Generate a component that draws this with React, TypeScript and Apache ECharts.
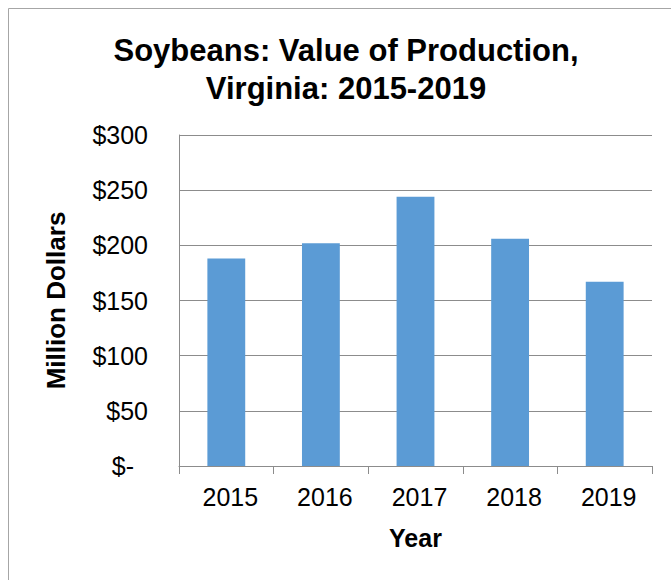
import React, { useEffect, useRef } from "react";
import * as echarts from "echarts";

const years = ["2015", "2016", "2017", "2018", "2019"];
const values = [188, 202, 244, 206, 167];
const yTicks = [0, 50, 100, 150, 200, 250, 300];

export default function App() {
  const ref = useRef<HTMLDivElement>(null);
  useEffect(() => {
    document.body.style.margin = "0";
    const chart = echarts.init(ref.current!, null, { renderer: "svg" });
    chart.setOption({
      animation: false,
      backgroundColor: "#ffffff",
      title: {
        text: "Soybeans: Value of Production,\nVirginia: 2015-2019",
        left: 346,
        textAlign: "center",
        top: 31,
        padding: 0,
        textStyle: {
          fontFamily: "Liberation Sans, Arial, sans-serif",
          fontWeight: "bold",
          fontSize: 31,
          lineHeight: 38,
          color: "#000",
        },
      },
      graphic: [
        {
          type: "rect",
          shape: { x: 8.5, y: 8.5, width: 700, height: 700 },
          style: { fill: "none", stroke: "#a6a6a6", lineWidth: 1 },
          silent: true,
        },
      ],
      grid: { left: 179, right: 19, top: 135, bottom: 114 },
      xAxis: {
        type: "category",
        data: years,
        name: "Year",
        nameLocation: "middle",
        nameGap: 59,
        nameTextStyle: {
          fontFamily: "Liberation Sans, Arial, sans-serif",
          fontWeight: "bold",
          fontSize: 25,
          color: "#000",
        },
        axisLine: { show: true, lineStyle: { color: "#8c8c8c", width: 1 } },
        axisTick: { show: true, length: 8, lineStyle: { color: "#8c8c8c" } },
        axisLabel: {
          fontFamily: "Liberation Sans, Arial, sans-serif",
          fontSize: 25,
          color: "#000",
          margin: 18,
          padding: [0, 0, 0, 8],
        },
      },
      yAxis: {
        type: "value",
        min: 0,
        max: 300,
        interval: 50,
        name: "Million Dollars",
        nameLocation: "middle",
        nameGap: 110,
        nameTextStyle: {
          fontFamily: "Liberation Sans, Arial, sans-serif",
          fontWeight: "bold",
          fontSize: 26,
          color: "#000",
        },
        axisLine: { show: true, lineStyle: { color: "#8c8c8c", width: 1 } },
        axisTick: { show: false },
        splitLine: { show: true, lineStyle: { color: "#8c8c8c", width: 1 } },
        axisLabel: {
          fontFamily: "Liberation Sans, Arial, sans-serif",
          fontSize: 25,
          color: "#000",
          margin: 31,
          formatter: (v: number) =>
            yTicks.includes(v) ? (v === 0 ? "{z|$-}" : "$" + v) : "",
          rich: {
            z: {
              fontFamily: "Liberation Sans, Arial, sans-serif",
              fontSize: 25,
              color: "#000",
              padding: [0, 14, 0, 0],
            },
          },
        },
      },
      series: [
        {
          type: "bar",
          data: values,
          barWidth: "40%",
          itemStyle: { color: "#5B9BD5" },
        },
      ],
    });
    return () => chart.dispose();
  }, []);
  return <div ref={ref} style={{ width: 671, height: 580 }} />;
}
